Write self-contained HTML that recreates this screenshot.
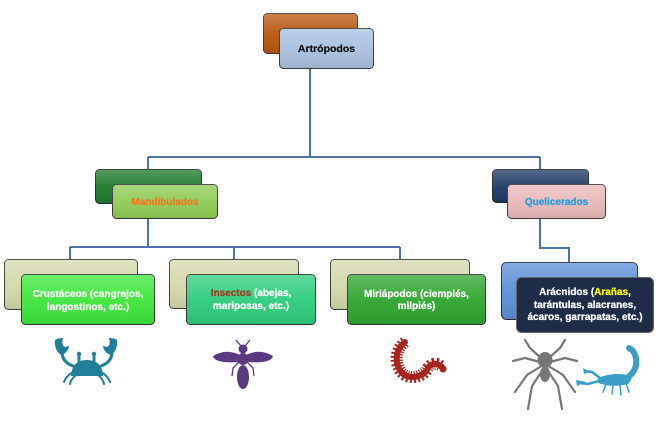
<!DOCTYPE html>
<html><head><meta charset="utf-8">
<style>
html,body{margin:0;padding:0;background:#fff;}
svg{display:block;}
text{font-family:"Liberation Sans",sans-serif;font-weight:bold;}
</style></head>
<body>
<svg width="660" height="429" viewBox="0 0 660 429" xmlns="http://www.w3.org/2000/svg">
<defs>
<linearGradient id="gl" x1="0" y1="0" x2="0" y2="1">
<stop offset="0" stop-color="#fff" stop-opacity="0.25"/>
<stop offset="0.5" stop-color="#fff" stop-opacity="0.05"/>
<stop offset="1" stop-color="#000" stop-opacity="0.08"/>
</linearGradient>
</defs>
<rect width="660" height="429" fill="#fff"/>

<!-- connectors -->
<g stroke="#4f73a8" stroke-width="2" fill="none">
<path d="M310 68 V157"/>
<path d="M148 157 H540"/>
<path d="M148 157 V169"/>
<path d="M540 157 V169"/>
<path d="M148 219 V247"/>
<path d="M70 247 H400"/>
<path d="M70 247 V259"/>
<path d="M234 247 V259"/>
<path d="M400 247 V259"/>
<path d="M540 218 V248 H569 V262"/>
</g>

<!-- Artrópodos -->
<rect x="263.5" y="13.5" width="94" height="40" rx="4" fill="#b8570f" stroke="#3a3a3a"/>
<rect x="263.5" y="13.5" width="94" height="40" rx="4" fill="url(#gl)"/>
<rect x="279.5" y="28.5" width="94" height="40" rx="4" fill="#a9c0df" stroke="#3a3a3a"/>
<rect x="279.5" y="28.5" width="94" height="40" rx="4" fill="url(#gl)"/>
<text x="326.5" y="52" font-size="10.5" fill="#111" stroke="#111" stroke-width="0.25" text-anchor="middle">Artrópodos</text>

<!-- Mandibulados -->
<rect x="95.5" y="169.5" width="106" height="34" rx="4" fill="#1d7a2c" stroke="#2a2a2a"/>
<rect x="95.5" y="169.5" width="106" height="34" rx="4" fill="url(#gl)"/>
<rect x="112.5" y="184.5" width="105" height="34" rx="4" fill="#8fcb55" stroke="#3a3a3a"/>
<rect x="112.5" y="184.5" width="105" height="34" rx="4" fill="url(#gl)"/>
<text x="165" y="205" font-size="10" fill="#ec7a24" stroke="#ec7a24" stroke-width="0.25" text-anchor="middle">Mandibulados</text>

<!-- Quelicerados -->
<rect x="492.5" y="169.5" width="96" height="33" rx="4" fill="#1f3a66" stroke="#2a2a2a"/>
<rect x="492.5" y="169.5" width="96" height="33" rx="4" fill="url(#gl)"/>
<rect x="507.5" y="184.5" width="98" height="34" rx="4" fill="#e9b9b9" stroke="#3a3a3a"/>
<rect x="507.5" y="184.5" width="98" height="34" rx="4" fill="url(#gl)"/>
<text x="556.5" y="205" font-size="10" fill="#1fa0e0" stroke="#1fa0e0" stroke-width="0.25" text-anchor="middle">Quelicerados</text>

<!-- Crustáceos -->
<rect x="4.5" y="259.5" width="133" height="50" rx="4" fill="#d5d9ab" stroke="#3a3a3a"/>
<rect x="4.5" y="259.5" width="133" height="50" rx="4" fill="url(#gl)"/>
<rect x="21.5" y="274.5" width="133" height="50" rx="4" fill="#3ee63c" stroke="#333"/>
<rect x="21.5" y="274.5" width="133" height="50" rx="4" fill="url(#gl)"/>
<g fill="#fff" stroke="#fff" stroke-width="0.25" font-size="10" text-anchor="middle">
<text x="88" y="297">Crustáceos (cangrejos,</text>
<text x="88" y="310">langostinos, etc.)</text>
</g>

<!-- Insectos -->
<rect x="169.5" y="259.5" width="129" height="49" rx="4" fill="#d5d9ab" stroke="#3a3a3a"/>
<rect x="169.5" y="259.5" width="129" height="49" rx="4" fill="url(#gl)"/>
<rect x="186.5" y="274.5" width="129" height="50" rx="4" fill="#2ecd7c" stroke="#333"/>
<rect x="186.5" y="274.5" width="129" height="50" rx="4" fill="url(#gl)"/>
<g fill="#fff" stroke="#fff" stroke-width="0.25" font-size="10" text-anchor="middle">
<text x="251" y="296"><tspan fill="#a53a22" stroke="#a53a22">Insectos</tspan> (abejas,</text>
<text x="251" y="309">mariposas, etc.)</text>
</g>

<!-- Miriápodos -->
<rect x="330.5" y="259.5" width="139" height="50" rx="4" fill="#d5d9ab" stroke="#3a3a3a"/>
<rect x="330.5" y="259.5" width="139" height="50" rx="4" fill="url(#gl)"/>
<rect x="347.5" y="274.5" width="138" height="50" rx="4" fill="#2ea52e" stroke="#333"/>
<rect x="347.5" y="274.5" width="138" height="50" rx="4" fill="url(#gl)"/>
<g fill="#fff" stroke="#fff" stroke-width="0.25" font-size="10" text-anchor="middle">
<text x="416.5" y="297">Miriápodos (ciempiés,</text>
<text x="416.5" y="309">milpiés)</text>
</g>

<!-- Arácnidos -->
<rect x="501.5" y="262.5" width="136" height="57" rx="5" fill="#5b8fd8" stroke="#2a2a2a"/>
<rect x="501.5" y="262.5" width="136" height="57" rx="5" fill="url(#gl)"/>
<rect x="516.5" y="277.5" width="137" height="55" rx="5" fill="#1e2c48" stroke="#666"/>
<g fill="#fff" stroke="#fff" stroke-width="0.25" font-size="10" text-anchor="middle">
<text x="585" y="295">Arácnidos (<tspan fill="#ffff00" stroke="#ffff00">Arañas</tspan>,</text>
<text x="585" y="308">tarántulas, alacranes,</text>
<text x="585" y="320">ácaros, garrapatas, etc.)</text>
</g>

<!-- Crab -->
<g fill="#1f7f98" stroke="#1f7f98">
<path d="M71 376 Q72 360 87 360 Q102 360 103 376 Z" stroke="none"/>
<g fill="none" stroke-width="3" stroke-linecap="round">
<path d="M73 366 Q62 362 62 352"/>
<path d="M101 366 Q112 362 112 352"/>
<path d="M79 361 V355"/><path d="M94 361 V355"/>
<path d="M73 372 Q66 376 64 382" stroke-width="2"/>
<path d="M76 375 Q71 379 70 384" stroke-width="2"/>
<path d="M101 372 Q108 376 110 382" stroke-width="2"/>
<path d="M98 375 Q103 379 104 384" stroke-width="2"/>
</g>
<circle cx="79" cy="354" r="2.2" stroke="none"/>
<circle cx="94" cy="354" r="2.2" stroke="none"/>
<path d="M55 340 Q54 350 61 355 Q68 353 69 346 L65 347 Q61 345 63 338 Q58 338 55 340 Z" stroke="none"/>
<path d="M117 340 Q118 350 111 355 Q104 353 103 346 L107 347 Q111 345 109 338 Q114 338 117 340 Z" stroke="none"/>
</g>

<!-- Bee -->
<g fill="#5a3a80" stroke="#5a3a80">
<path d="M240 355 Q226 348 213 356 Q215 364 240 362 Z" stroke="none"/>
<path d="M246 355 Q260 348 273 356 Q271 364 246 362 Z" stroke="none"/>
<circle cx="243" cy="349" r="4.5" stroke="none"/>
<ellipse cx="243" cy="359" rx="5.5" ry="6" stroke="none"/>
<ellipse cx="243" cy="377" rx="6" ry="12" stroke="none"/>
<g fill="none" stroke-width="1.3">
<path d="M241 346 L236 340"/><path d="M245 346 L250 340"/>
<path d="M239 362 L233 368 L232 376"/><path d="M247 362 L253 368 L254 376"/>
</g>
</g>

<!-- Centipede -->
<g fill="none" stroke="#a8251d" stroke-linecap="butt">
<path d="M405 342 Q395 350 397 363 Q401 378 414 377 Q424 376 428 368 Q434 360 442 367" stroke-width="12" stroke-dasharray="1.6 1.8"/>
<path d="M405 342 Q395 350 397 363 Q401 378 414 377 Q424 376 428 368 Q434 360 442 367" stroke-width="6" stroke-linecap="round"/>
</g>
<circle cx="443" cy="369" r="3.5" fill="#a8251d"/>

<!-- Spider -->
<g stroke="#777" fill="none" stroke-width="2.2" stroke-linecap="round">
<path d="M541 358 L530 348 L525 340"/>
<path d="M549 358 L560 348 L565 340"/>
<path d="M540 362 L525 358 L513 361"/>
<path d="M550 362 L565 358 L577 361"/>
<path d="M540 367 L527 375 L515 392"/>
<path d="M550 367 L563 375 L575 392"/>
<path d="M542 371 L532 386 L528 409"/>
<path d="M548 371 L558 386 L562 409"/>
</g>
<ellipse cx="545" cy="360" rx="7.5" ry="8" fill="#777"/>
<ellipse cx="545" cy="374" rx="5" ry="8" fill="#777"/>

<!-- Scorpion -->
<g fill="#3a9ec8" stroke="#3a9ec8">
<path d="M598 378 Q612 372 628 375 Q634 378 628 384 Q612 388 598 383 Z" stroke="none"/>
<g fill="none" stroke-linecap="round">
<path d="M627 378 Q638 370 636 358 Q634 350 629 348" stroke-width="6"/>
<path d="M599 381 L588 384 L578 383" stroke-width="2.5"/>
<path d="M600 378 L592 372 L585 371" stroke-width="2.5"/>
<path d="M606 384 L603 392" stroke-width="1.5"/>
<path d="M613 385 L612 394" stroke-width="1.5"/>
<path d="M620 385 L621 395" stroke-width="1.5"/>
<path d="M626 383 L629 392" stroke-width="1.5"/>
</g>
<path d="M576 380 L586 382 L577 386 Z" stroke="none"/>
<path d="M583 368 L590 372 L584 374 Z" stroke="none"/>
<circle cx="630" cy="349" r="3" stroke="none"/>
</g>
</svg>
</body></html>
